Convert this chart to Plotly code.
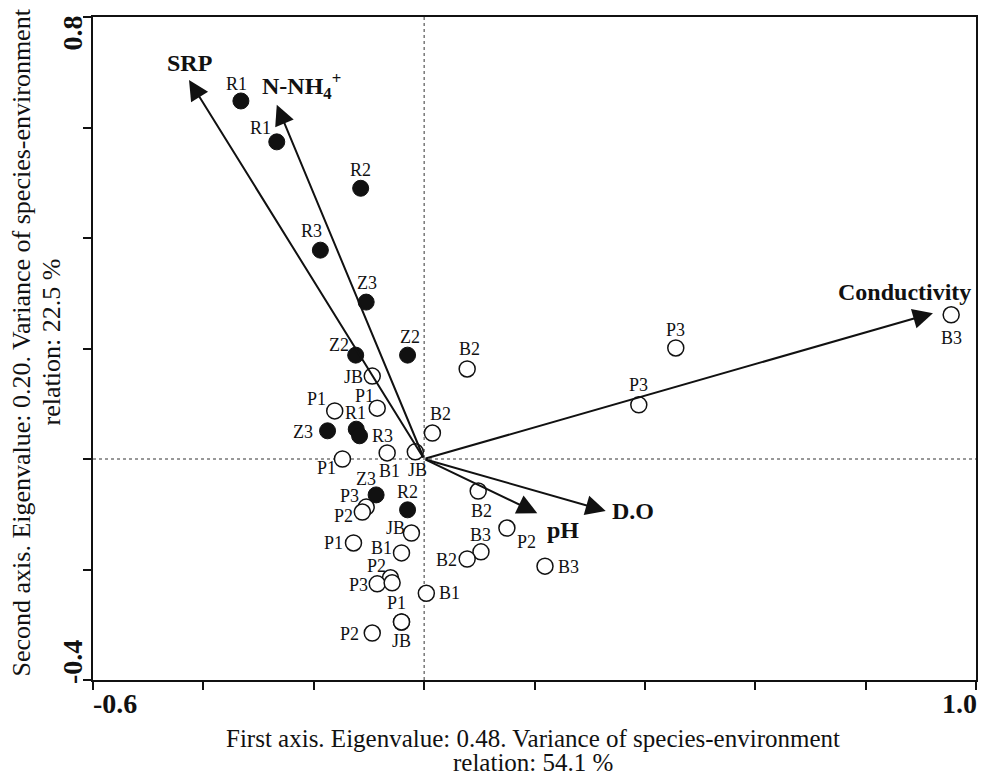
import plotly.graph_objects as go

# Site scores (filled = one group, open = another)
filled_labels = ["R1", "R1", "R2", "R3", "Z3", "Z2", "Z2", "Z3", "R1", "R3", "Z3", "R2"]
filled_x = [-0.332, -0.267, -0.115, -0.188, -0.105, -0.124, -0.030, -0.175, -0.123, -0.117, -0.087, -0.030]
filled_y = [0.648, 0.574, 0.490, 0.378, 0.284, 0.188, 0.188, 0.051, 0.054, 0.042, -0.065, -0.092]

open_labels = ["B3", "P3", "P3", "B2", "B2", "JB", "P1", "P1", "P1", "B1", "JB", "P3", "P2", "JB",
               "P1", "B1", "P2", "P3", "", "B1", "P1", "JB", "P2", "B2", "P2", "B3", "B2", "B3"]
open_x = [0.955, 0.456, 0.389, 0.078, 0.015, -0.094, -0.162, -0.085, -0.148, -0.067, -0.016, -0.105, -0.112, -0.023,
          -0.128, -0.041, -0.061, -0.085, -0.058, 0.004, -0.041, -0.041, -0.094, 0.098, 0.150, 0.103, 0.078, 0.219]
open_y = [0.261, 0.201, 0.098, 0.163, 0.047, 0.150, 0.087, 0.092, 0.000, 0.011, 0.013, -0.087, -0.096, -0.134,
          -0.152, -0.170, -0.215, -0.226, -0.224, -0.243, -0.295, -0.295, -0.315, -0.058, -0.125, -0.168, -0.181, -0.194]

# label offsets in screen pixels (dx right, dy up) -- layout only
filled_off = [(-4, 17), (-16, 14), (0, 18), (-9, 19), (1, 19), (-17, 10), (2, 18),
              (-25, -1), (-1, 16), (23, 0), (-10, 16), (0, 18)]
open_off = [(0, -23), (0, 18), (0, 20), (2, 20), (8, 19), (-19, -1), (-18, 12), (-13, 12), (-16, -9),
            (2, -18), (2, -18), (-17, 11), (-19, -4), (-16, 5), (-20, 0), (-20, 5), (-14, 12), (-19, -1),
            (0, 0), (23, 0), (-5, 19), (0, -19), (-23, -1), (3, -20), (20, -14), (0, 17), (-21, -1), (24, -1)]

# Environmental vectors (biplot arrows)
env_names = ["SRP", "N-NH<sub>4</sub><sup>+</sup>", "Conductivity", "D.O", "pH"]
env_x = [-0.426, -0.267, 0.922, 0.329, 0.205]
env_y = [0.686, 0.641, 0.264, -0.094, -0.098]
env_label_style = [
    dict(xanchor="center", yanchor="bottom", xshift=0, yshift=2),
    dict(xanchor="left", yanchor="bottom", xshift=-17, yshift=0),
    dict(xanchor="right", yanchor="bottom", xshift=40, yshift=6),
    dict(xanchor="left", yanchor="middle", xshift=4, yshift=0),
    dict(xanchor="left", yanchor="top", xshift=8, yshift=-2),
]

x_ticks = [-0.6, -0.4, -0.2, 0.0, 0.2, 0.4, 0.6, 0.8, 1.0]
x_label_vals = [-0.6, 1.0]
x_label_text = ["-0.6", "1.0"]
y_ticks = [-0.4, -0.2, 0.0, 0.2, 0.4, 0.6, 0.8]
y_label_vals = [-0.4, 0.8]
y_label_text = ["-0.4", "0.8"]

x_title = ["First axis. Eigenvalue: 0.48. Variance of species-environment", "relation: 54.1 %"]
y_title = ["Second axis. Eigenvalue: 0.20. Variance of species-environment", "relation: 22.5 %"]

FONT = "Liberation Serif"
INK = "#111"

fig = go.Figure()

# zero lines
fig.add_shape(type="line", x0=0, x1=0, y0=-0.4, y1=0.8, xref="x", yref="y",
              line=dict(color="#333", width=1, dash="dot"), layer="below")
fig.add_shape(type="line", x0=-0.6, x1=1.0, y0=0, y1=0, xref="x", yref="y",
              line=dict(color="#333", width=1, dash="dot"), layer="below")

# arrows
for name, ex, ey, st in zip(env_names, env_x, env_y, env_label_style):
    fig.add_annotation(x=ex, y=ey, ax=0, ay=0, xref="x", yref="y", axref="x", ayref="y",
                       showarrow=True, arrowhead=2, arrowsize=2.0, arrowwidth=2, arrowcolor=INK,
                       text="", standoff=0)
    fig.add_annotation(x=ex, y=ey, xref="x", yref="y", showarrow=False, text="<b>" + name + "</b>",
                       font=dict(family=FONT, size=24, color=INK), **st)

fig.add_trace(go.Scatter(
    x=open_x, y=open_y, mode="markers",
    marker=dict(size=16, color="white", line=dict(color=INK, width=1.5)),
    showlegend=False, cliponaxis=False, hoverinfo="skip"))
fig.add_trace(go.Scatter(
    x=filled_x, y=filled_y, mode="markers",
    marker=dict(size=16, color=INK, line=dict(color=INK, width=1)),
    showlegend=False, cliponaxis=False, hoverinfo="skip"))

label_font = dict(family=FONT, size=18, color=INK)
for labels, xs, ys, offs in [(filled_labels, filled_x, filled_y, filled_off),
                             (open_labels, open_x, open_y, open_off)]:
    for t, px, py, (dx, dy) in zip(labels, xs, ys, offs):
        if not t:
            continue
        fig.add_annotation(x=px, y=py, xref="x", yref="y", text=t, showarrow=False, font=label_font,
                           xanchor="center", yanchor="middle", xshift=dx, yshift=dy)

fig.update_xaxes(range=[-0.6, 1.0], tickvals=x_ticks, showticklabels=False, ticks="outside", ticklen=8,
                 tickwidth=2, tickcolor=INK, showline=True, linewidth=2, linecolor=INK, mirror=True,
                 showgrid=False, zeroline=False)
fig.update_yaxes(range=[-0.4, 0.8], tickvals=y_ticks, showticklabels=False, ticks="outside", ticklen=8,
                 tickwidth=2, tickcolor=INK, showline=True, linewidth=2, linecolor=INK, mirror=True,
                 showgrid=False, zeroline=False)

# tick labels
tick_font = dict(family=FONT, size=28, color=INK, weight="bold")
for v, t, anchor, xs in zip(x_label_vals, x_label_text, ["left", "right"], [-2, 3]):
    fig.add_annotation(x=v, y=0, xref="x", yref="paper", text=t, showarrow=False, font=tick_font,
                       xanchor=anchor, yanchor="middle", xshift=xs, yshift=-23)
for v, t, anchor, ys in zip(y_label_vals, y_label_text, ["bottom", "top"], [-6, 3]):
    fig.add_annotation(x=0, y=v, xref="paper", yref="y", text=t, showarrow=False, font=tick_font,
                       textangle=-90, xanchor="center", yanchor=anchor, xshift=-21, yshift=ys)

# axis titles
title_font = dict(family=FONT, size=25, color=INK)
for t, ys in zip(x_title, [-58, -82]):
    fig.add_annotation(x=0.5, y=0, xref="paper", yref="paper", text=t, showarrow=False, font=title_font,
                       xanchor="center", yanchor="middle", xshift=-2, yshift=ys)
for t, xs in zip(y_title, [-72, -42]):
    fig.add_annotation(x=0, y=0.5, xref="paper", yref="paper", text=t, showarrow=False,
                       font=dict(family=FONT, size=26, color=INK), textangle=-90,
                       xanchor="center", yanchor="middle", xshift=xs, yshift=6)

fig.update_layout(width=983, height=774, margin=dict(l=93, r=5, t=17, b=94),
                  plot_bgcolor="white", paper_bgcolor="white")

fig.write_html("out.html")
